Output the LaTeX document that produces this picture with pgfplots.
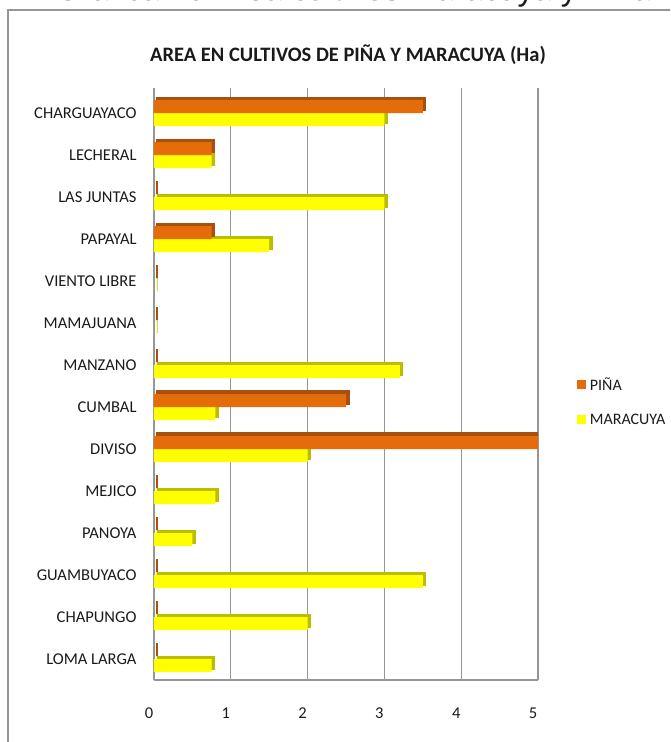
\documentclass[border=0pt]{standalone}
\usepackage{fontspec}
\setmainfont{Carlito}
\newfontfamily\arialf{Liberation Sans}
\usepackage{pgfplots}
\pgfplotsset{compat=1.18}
\usepackage{pgfplotstable}

\definecolor{pina}{HTML}{E46C0A}
\definecolor{pinadk}{HTML}{A8500C}
\definecolor{mara}{HTML}{FFFF00}
\definecolor{maradk}{HTML}{BDBD00}
\definecolor{gridg}{HTML}{969696}
\definecolor{txt}{HTML}{1A1A1A}

\pgfplotstableread{
y pina mara
13 3.5 3.0
12 0.75 0.75
11 0 3.0
10 0.75 1.5
9 0 0
8 0 0
7 0 3.2
6 2.5 0.8
5 5.0 2.0
4 0 0.8
3 0 0.5
2 0 3.5
1 0 2.0
0 0 0.75
}\datatable

\begin{document}
\begin{tikzpicture}
\path[use as bounding box, clip] (0pt,0pt) rectangle (670pt,742pt);
\node[anchor=base west, font=\arialf\fontsize{32.5}{38}\selectfont, text=txt, inner sep=0pt] at (55pt,741pt) {Gráfica 20 Área cultivos Maracuya y Piña};
\draw[gridg, line width=1.5pt] (8pt,-5pt) -- (8pt,732pt) -- (680pt,732pt);
\node[font=\bfseries\fontsize{20.5}{24}\selectfont, text=txt] at (348pt,687pt) {AREA EN CULTIVOS DE PIÑA Y MARACUYA (Ha)};
\begin{axis}[at={(154pt,62pt)}, anchor=south west, scale only axis, width=384pt, height=592pt,
  xmin=0, xmax=5, ymin=-0.5, ymax=13.6,
  xtick={0,1,2,3,4,5}, ytick={0,...,13},
  yticklabels={LOMA LARGA,CHAPUNGO,GUAMBUYACO,PANOYA,MEJICO,DIVISO,CUMBAL,MANZANO,MAMAJUANA,VIENTO LIBRE,PAPAYAL,LAS JUNTAS,LECHERAL,CHARGUAYACO},
  axis x line*=bottom, axis y line*=left,
  axis line style={gridg, line width=1.5pt, -},
  major tick length=0pt,
  xmajorgrids, grid style={gridg, line width=1.2pt},
  /pgf/number format/assume math mode=true,
  tick label style={font=\fontsize{16.5}{19}\selectfont, text=txt},
  xticklabel style={yshift=-24pt, xshift=-5pt},
  yticklabel style={xshift=-14pt},
  bar width=13pt,
  legend style={draw=none, fill=none, at={(1.093,0.47)}, anchor=west,
    font=\fontsize{16}{19}\selectfont, text=txt, row sep=18pt, legend cell align=left,
    nodes={inner xsep=4pt}},
  legend image code/.code={\fill[#1] (0pt,-4.5pt) rectangle (9pt,4.5pt);},
  reverse legend,
]
\addplot[xbar, fill=maradk, draw=maradk, line width=0.8pt, bar shift=-6.5pt, xshift=3pt, yshift=3pt, forget plot] table[x=mara, y=y]{\datatable};
\addplot[xbar, fill=mara, draw=none, bar shift=-6.5pt] table[x=mara, y=y]{\datatable};
\addplot[xbar, fill=pinadk, draw=pinadk, line width=1.2pt, bar shift=6.5pt, xshift=3pt, yshift=3pt, forget plot] table[x=pina, y=y]{\datatable};
\addplot[xbar, fill=pina, draw=none, bar shift=6.5pt] table[x=pina, y=y]{\datatable};
\legend{MARACUYA, PIÑA}
\end{axis}
\end{tikzpicture}
\end{document}
